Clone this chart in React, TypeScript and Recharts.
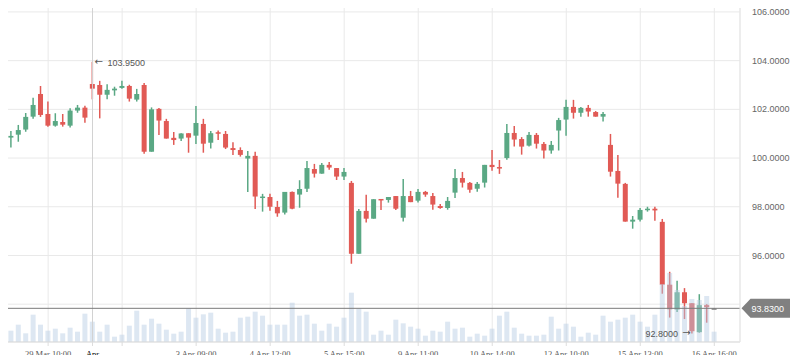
import React from "react";
import {
  ComposedChart,
  Bar,
  XAxis,
  YAxis,
  CartesianGrid,
  ReferenceLine,
  ReferenceDot,
} from "recharts";

// candle values
const opens = [
  100.67, 100.84, 100.96, 101.17, 101.7, 102.63, 101.81, 101.33, 101.48, 101.33,
  101.95, 102.07, 103.04, 103.0, 102.6, 102.78, 102.88, 102.96, 102.4, 103.0,
  100.26, 102.02, 101.52, 100.83, 100.8, 101.02, 100.92, 101.4, 100.63, 101.06,
  100.99, 100.41, 100.33, 99.98, 100.09, 98.38, 98.4, 97.99, 97.76, 98.61,
  98.5, 98.74, 99.55, 99.36, 99.72, 99.59, 99.24, 98.98, 96.07, 97.83,
  97.51, 98.32, 98.28, 98.44, 97.55, 98.44, 98.25, 98.61, 98.44, 98.03,
  97.95, 98.58, 99.18, 98.98, 98.74, 98.99, 99.72, 99.63, 100.0, 101.03,
  100.78, 100.51, 100.95, 100.58, 100.31, 101.13, 101.58, 102.1, 101.86, 102.06,
  101.89, 101.7, 100.54, 99.47, 98.94, 97.39, 97.47, 97.88, 97.92, 97.38,
  94.8, 93.78, 94.49, 94.04, 92.85, 93.96, 93.83,
];
const highs = [
  100.95, 101.11, 101.36, 101.85, 102.48, 102.96, 102.32, 101.84, 101.81, 102.04,
  102.18, 102.15, 103.95, 103.17, 103.03, 102.93, 103.17, 103.01, 102.84, 103.08,
  102.08, 102.06, 101.61, 101.07, 101.02, 101.02, 102.14, 101.61, 101.11, 101.13,
  101.11, 100.65, 100.44, 100.29, 100.26, 98.53, 98.53, 98.24, 98.61, 98.63,
  99.09, 99.88, 99.76, 99.8, 99.84, 99.59, 99.59, 99.06, 97.91, 98.49,
  98.31, 98.32, 98.4, 98.44, 99.14, 98.65, 98.73, 98.65, 98.57, 98.11,
  98.4, 99.55, 99.43, 99.02, 99.02, 99.72, 100.33, 99.92, 101.4, 101.32,
  100.86, 101.07, 101.03, 100.66, 100.7, 101.65, 102.39, 102.39, 102.1, 102.18,
  101.93, 101.89, 100.99, 100.13, 98.98, 97.62, 97.95, 98.0, 98.0, 97.5,
  95.33, 94.96, 94.66, 94.04, 94.41, 94.0, 93.84,
];
const lows = [
  100.26, 100.43, 100.67, 101.08, 101.61, 101.69, 101.29, 101.29, 101.29, 101.25,
  101.86, 101.45, 102.41, 101.63, 102.41, 102.56, 102.85, 102.32, 102.32, 100.18,
  100.26, 100.95, 100.8, 100.54, 100.7, 100.22, 100.58, 100.22, 100.39, 100.74,
  100.37, 100.13, 100.06, 98.61, 97.91, 97.8, 97.84, 97.59, 97.68, 97.9,
  97.96, 98.61, 99.2, 99.36, 99.52, 99.1, 99.1, 95.66, 96.07, 97.35,
  97.51, 97.87, 98.17, 97.87, 97.39, 98.19, 98.17, 98.41, 97.88, 97.92,
  97.88, 98.36, 98.79, 98.58, 98.62, 98.79, 99.48, 99.35, 99.93, 100.47,
  100.14, 100.47, 100.39, 99.98, 100.18, 100.31, 100.92, 101.62, 101.7, 101.7,
  101.7, 101.5, 99.24, 98.37, 97.39, 97.1, 97.39, 97.8, 97.43, 94.43,
  93.45, 93.68, 93.39, 92.8, 92.83, 93.24, 93.82,
];
const closes = [
  100.87, 100.91, 101.15, 101.69, 102.18, 101.77, 101.33, 101.52, 101.37, 101.95,
  102.07, 101.66, 102.85, 102.6, 102.8, 102.85, 102.96, 102.44, 102.63, 100.26,
  102.0, 101.54, 100.8, 100.74, 101.01, 100.84, 101.44, 100.59, 101.02, 101.0,
  100.43, 100.33, 100.13, 100.09, 98.42, 98.42, 98.0, 97.73, 98.61, 97.92,
  98.73, 99.59, 99.36, 99.72, 99.61, 99.24, 99.43, 96.07, 97.83, 97.51,
  98.31, 98.28, 98.4, 97.92, 98.44, 98.19, 98.61, 98.5, 98.09, 97.95,
  98.24, 99.18, 98.99, 98.7, 98.94, 99.72, 99.63, 99.59, 101.03, 100.76,
  100.47, 100.95, 100.59, 100.31, 100.54, 101.56, 102.1, 101.86, 102.06, 101.91,
  101.7, 101.81, 99.44, 98.95, 97.39, 97.47, 97.87, 97.92, 97.85, 94.8,
  93.79, 94.49, 94.04, 92.89, 93.96, 93.88, 93.83,
];
const volumes = [
  97, 113, 173, 87, 273, 173, 113, 133, 87, 143,
  103, 283, 203, 103, 173, 53, 73, 163, 313, 173,
  233, 183, 123, 83, 103, 337, 243, 277, 293, 133,
  93, 103, 243, 253, 303, 263, 173, 173, 173, 393,
  263, 273, 183, 113, 183, 153, 243, 493, 333, 303,
  73, 113, 73, 223, 187, 153, 133, 63, 113, 103,
  203, 133, 143, 53, 83, 63, 133, 263, 303, 143,
  83, 63, 63, 73, 253, 133, 183, 153, 53, 93,
  73, 263, 203, 223, 243, 273, 203, 153, 273, 580,
  690, 520, 360, 430, 420, 460, 103,
];

const tickIndex = [6, 12, 16, 26, 36, 46, 56, 66, 76, 86, 96];
const tickText = [
  "29 Mar 10:00", "Apr", "", "3 Apr 09:00", "4 Apr 12:00", "5 Apr 15:00",
  "9 Apr 11:00", "10 Apr 14:00", "12 Apr 10:00", "15 Apr 13:00", "16 Apr 16:00",
];
const priceTicks = [94, 96, 98, 100, 102, 104, 106];

const UP = "#5aa884";
const DOWN = "#e15a55";
const SANS = "'Liberation Sans', Arial, sans-serif";
const SERIF = "'Liberation Serif', 'Times New Roman', serif";
const ARROW = "'DejaVu Sans', sans-serif";

const data = opens.map((o, i) => ({
  i,
  o,
  h: highs[i],
  l: lows[i],
  c: closes[i],
  range: [lows[i], highs[i]],
  vol: volumes[i],
}));

const maxIdx = highs.indexOf(Math.max(...highs));
const minIdx = lows.indexOf(Math.min(...lows));
const last = closes[closes.length - 1];

const Candle = (props: any) => {
  const { x, y, width, height, payload } = props;
  const { o, h, l, c } = payload;
  const k = height / (h - l);
  const yo = y + (h - o) * k;
  const yc = y + (h - c) * k;
  const color = c > o ? UP : c < o ? DOWN : "#888888";
  const cx = x + width / 2;
  const top = Math.min(yo, yc);
  const bh = Math.max(Math.abs(yo - yc), 1.5);
  return (
    <g>
      <line x1={cx} x2={cx} y1={y} y2={y + height} stroke={color} strokeWidth={1.5} />
      <rect x={x} y={top} width={width} height={bh} fill={color} />
    </g>
  );
};

const XTick = (props: any) => {
  const { x, y, payload } = props;
  const t = tickText[tickIndex.indexOf(payload.value)];
  if (!t) return <g />;
  const strong = t === "Apr";
  return (
    <text
      x={x}
      y={y + 10.5}
      textAnchor="middle"
      fontFamily={SERIF}
      fontSize={8.5}
      fill={strong ? "#000" : "#555"}
    >
      {t}
    </text>
  );
};

const YTick = (props: any) => {
  const { x, y, payload } = props;
  if (payload.value === 94) return <g />;
  return (
    <text x={x} y={y} dy="0.35em" fontFamily={SANS} fontSize={9} fill="#666">
      {Number(payload.value).toFixed(4)}
    </text>
  );
};

const HighNote = (props: any) => (
  <g fill="#555">
    <text x={props.cx + 2} y={props.cy + 3.5} fontFamily={ARROW} fontSize={10}>←</text>
    <text x={props.cx + 15} y={props.cy + 4} fontFamily={SANS} fontSize={9}>
      {highs[maxIdx].toFixed(4)}
    </text>
  </g>
);

const LowNote = (props: any) => (
  <g fill="#555">
    <text x={props.cx - 1.5} y={props.cy + 3} textAnchor="end" fontFamily={ARROW} fontSize={10}>→</text>
    <text x={props.cx - 14} y={props.cy + 3.5} textAnchor="end" fontFamily={SANS} fontSize={9}>
      {lows[minIdx].toFixed(4)}
    </text>
  </g>
);

const PriceTag = (props: any) => {
  const { x, y, width } = props.viewBox;
  const lx = x + width + 1.5;
  return (
    <g>
      <path
        d={`M${lx} ${y} L${lx + 9} ${y - 9.5} H${lx + 53} a4 4 0 0 1 4 4 V${y + 5.5} a4 4 0 0 1 -4 4 H${lx + 9} Z`}
        fill="#808080"
      />
      <text x={lx + 10} y={y + 3.3} fill="#fff" fontFamily={SANS} fontSize={9}>
        {last.toFixed(4)}
      </text>
    </g>
  );
};

export default function App() {
  return (
    <div style={{ margin: -8, width: 798, height: 363, background: "#fff" }}>
      <ComposedChart
        width={798}
        height={363}
        data={data}
        margin={{ top: 0, right: 0, bottom: 0, left: 0 }}
        barCategoryGap={0}
      >
        <CartesianGrid xAxisId="c" yAxisId="p" stroke="#e9e9e9" />
        <XAxis
          xAxisId="c"
          dataKey="i"
          type="category"
          ticks={tickIndex}
          interval={0}
          height={21}
          padding={{ left: 0, right: 22 }}
          axisLine={{ stroke: "#dddddd" }}
          tickLine={{ stroke: "#dddddd" }}
          tickSize={4}
          tickMargin={0}
          tick={<XTick />}
        />
        <XAxis xAxisId="v" dataKey="i" type="category" hide padding={{ left: 0, right: 22 }} />
        <YAxis
          yAxisId="p"
          orientation="right"
          domain={[92.447, 106.49]}
          ticks={priceTicks}
          allowDataOverflow
          width={58}
          axisLine={{ stroke: "#e6e6e6" }}
          tickLine={false}
          tickSize={0}
          tickMargin={12}
          tick={<YTick />}
        />
        <YAxis yAxisId="v" hide domain={[0, 3420]} allowDataOverflow />
        <ReferenceLine xAxisId="c" yAxisId="p" x={12} stroke="#d2d2d2" />
        <Bar
          xAxisId="c"
          yAxisId="p"
          dataKey="range"
          barSize={5}
          shape={<Candle />}
          isAnimationActive={false}
        />
        <Bar
          xAxisId="v"
          yAxisId="v"
          dataKey="vol"
          barSize={5}
          fill="#b7cde4"
          fillOpacity={0.47}
          isAnimationActive={false}
        />
        <ReferenceLine
          xAxisId="c"
          yAxisId="p"
          y={last}
          stroke="#7a7a7a"
          label={<PriceTag />}
        />
        <ReferenceDot xAxisId="c" yAxisId="p" x={maxIdx} y={highs[maxIdx]} r={0} shape={<HighNote />} />
        <ReferenceDot xAxisId="c" yAxisId="p" x={minIdx} y={lows[minIdx]} r={0} shape={<LowNote />} />
      </ComposedChart>
    </div>
  );
}
